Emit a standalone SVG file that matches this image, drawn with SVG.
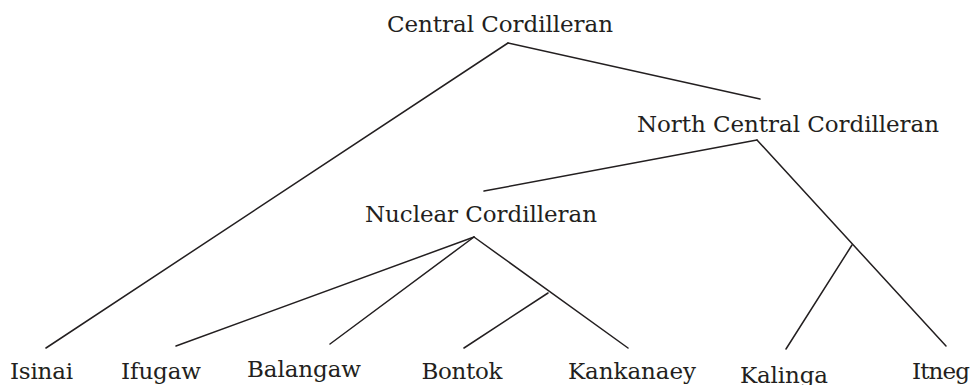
<svg xmlns="http://www.w3.org/2000/svg" width="973" height="385" viewBox="0 0 973 385">
<style>
text{font-family:"DejaVu Serif","Liberation Serif",serif;font-size:23px;fill:#231f20;text-anchor:middle}
line{stroke:#231f20;stroke-width:1.5;stroke-linecap:round}
</style>
<rect width="973" height="385" fill="#fff"/>
<g id="connectors">
<line x1="508" y1="43" x2="46" y2="348"/>
<line x1="508" y1="43" x2="760" y2="99"/>
<line x1="757" y1="140" x2="484" y2="191"/>
<line x1="757" y1="140" x2="946" y2="346"/>
<line x1="852" y1="245" x2="786" y2="349"/>
<line x1="474" y1="237" x2="176" y2="346"/>
<line x1="474" y1="237" x2="330" y2="344"/>
<line x1="474" y1="237" x2="628" y2="348"/>
<line x1="548" y1="293" x2="464" y2="348"/>
</g>
<g id="central"><text x="500" y="32" textLength="226">Central Cordilleran</text></g>
<g id="northcentral"><text x="788" y="132" textLength="302">North Central Cordilleran</text></g>
<g id="nuclear"><text x="481" y="222" textLength="232">Nuclear Cordilleran</text></g>
<g id="isinai"><text x="41.5" y="379" textLength="63">Isinai</text></g>
<g id="ifugaw"><text x="161" y="379" textLength="80">Ifugaw</text></g>
<g id="balangaw"><text x="304" y="377" textLength="114">Balangaw</text></g>
<g id="bontok"><text x="462" y="379" textLength="81">Bontok</text></g>
<g id="kankanaey"><text x="632" y="379" textLength="128">Kankanaey</text></g>
<g id="kalinga"><text x="784" y="383" textLength="88">Kalinga</text></g>
<g id="itneg"><text x="941" y="379" textLength="58">Itneg</text></g>
</svg>
